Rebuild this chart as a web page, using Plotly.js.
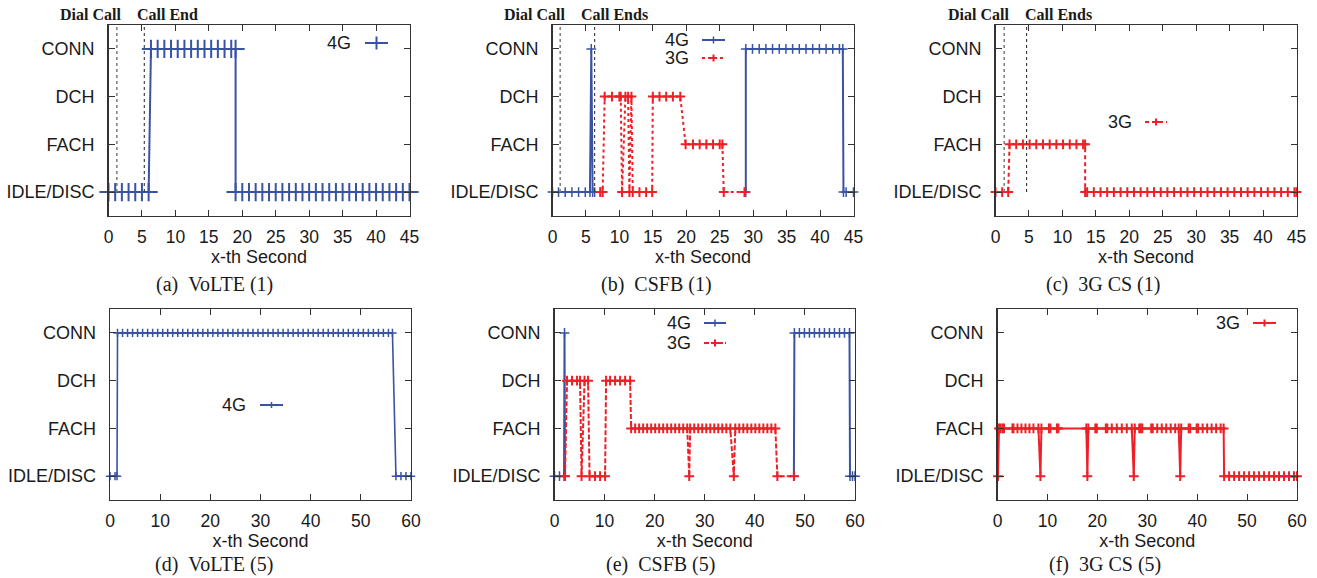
<!DOCTYPE html>
<html>
<head>
<meta charset="utf-8">
<script src="https://cdn.plot.ly/plotly-3.0.1.min.js"></script>
<style>html,body{margin:0;padding:0;background:#fff;}#chart{width:1317px;height:578px;}</style>
</head>
<body>
<div id="chart"></div>
<script>
// ---------- data ----------
const stateLabels = ['IDLE/DISC', 'FACH', 'DCH', 'CONN'];
const stateValues = [0, 1, 2, 3];

// (a) VoLTE (1)
const a4gX = [0,1,2,3,4,5,6, 6.35,7.35,8.35,9.35,10.35,11.35,12.35,13.35,14.35,15.35,16.35,17.35,18.35,19.0, 19.0,20,21,22,23,24,25,26,27,28,29,30,31,32,33,34,35,36,37,38,39,40,41,42,43,44,45];
const a4gY = [0,0,0,0,0,0,0, 3,3,3,3,3,3,3,3,3,3,3,3,3,3, 0,0,0,0,0,0,0,0,0,0,0,0,0,0,0,0,0,0,0,0,0,0,0,0,0,0,0];

// (b) CSFB (1)
const b4gX = [0,0.9,1.9,2.9,3.9,4.9,5.6,5.8,6.0,6.3,7.15,null,28.9,28.9,29.9,30.9,31.9,32.9,33.9,34.9,35.9,36.9,37.9,38.9,39.9,40.9,41.9,42.9,43.4,43.5,43.9,45];
const b4gY = [0,0,0,0,0,0,0,3,0,0,0,null,0,3,3,3,3,3,3,3,3,3,3,3,3,3,3,3,3,0,0,0];
const b3gX = [7.15,7.5,7.8,8.9,10.0,10.2,10.4,10.9,11.3,11.5,11.8,12.0,13.0,14.0,14.9,15.0,16.0,17.0,18.0,19.1,19.9,21.0,22.0,23.0,24.0,25.0,25.4,25.6,28.7];
const b3gY = [0,0,2,2,2,2,0,2,2,0,2,0,0,0,0,2,2,2,2,2,1,1,1,1,1,1,1,0,0];

// (c) 3G CS (1)
const c3gX = [0,1.0,1.9,2.1,3.1,4.1,5.1,6.1,7.1,8.1,9.1,10.1,11.1,12.1,13.1,13.4,13.4,13.7,14.7,15.7,16.7,17.7,18.7,19.7,20.7,21.7,22.7,23.7,24.7,25.7,26.7,27.7,28.7,29.7,30.7,31.7,32.7,33.7,34.7,35.7,36.7,37.7,38.7,39.7,40.7,41.7,42.7,43.7,44.7,45];
const c3gY = [0,0,0,1,1,1,1,1,1,1,1,1,1,1,1,1,0,0,0,0,0,0,0,0,0,0,0,0,0,0,0,0,0,0,0,0,0,0,0,0,0,0,0,0,0,0,0,0,0,0];

// (d) VoLTE (5)
const d4gX = [0,1.0,1.4,1.5,2.5,3.5,4.5,5.5,6.5,7.5,8.5,9.5,10.5,11.5,12.5,13.5,14.5,15.5,16.5,17.5,18.5,19.5,20.5,21.5,22.5,23.5,24.5,25.5,26.5,27.5,28.5,29.5,30.5,31.5,32.5,33.5,34.5,35.5,36.5,37.5,38.5,39.5,40.5,41.5,42.5,43.5,44.5,45.5,46.5,47.5,48.5,49.5,50.5,51.5,52.5,53.5,54.5,55.5,56.3,57.0,58.0,59.0,60.0];
const d4gY = [0,0,0,3,3,3,3,3,3,3,3,3,3,3,3,3,3,3,3,3,3,3,3,3,3,3,3,3,3,3,3,3,3,3,3,3,3,3,3,3,3,3,3,3,3,3,3,3,3,3,3,3,3,3,3,3,3,3,3,0,0,0,0];

// (e) CSFB (5)
const e4gX = [0,1.0,1.9,2.0,2.1,null,47.8,47.9,48.9,49.9,50.9,51.9,52.9,53.9,54.9,55.9,56.9,57.9,58.9,59.0,59.5,60.0];
const e4gY = [0,0,0,3,0,null,0,3,3,3,3,3,3,3,3,3,3,3,3,0,0,0];
const e3gX = [2.1,2.5,3.5,4.5,5.1,5.4,6.0,6.7,7.0,8.1,9.1,10.1,10.3,11.1,12.1,13.1,14.1,15.1,15.3,16.1,16.9,17.7,18.5,19.3,20.1,20.9,21.7,22.5,23.3,24.1,24.9,25.7,26.5,26.9,27.1,27.9,28.7,29.5,30.3,31.1,31.9,32.7,33.5,34.3,35.1,35.8,36.1,36.9,37.7,38.5,39.3,40.1,40.9,41.7,42.5,43.3,44.1,44.5,47.8];
const e3gY = [0,2,2,2,2,0,2,2,0,0,0,0,2,2,2,2,2,2,1,1,1,1,1,1,1,1,1,1,1,1,1,1,1,0,1,1,1,1,1,1,1,1,1,1,1,0,1,1,1,1,1,1,1,1,1,1,1,0,0];

// (f) 3G CS (5)
const f3gX = [0.1,0.3,0.6,1.0,1.3,3.0,3.2,4.0,4.8,5.6,6.4,7.2,8.2,8.6,8.8,10.3,10.6,11.9,12.2,17.8,18.0,18.2,19.6,19.9,21.7,22.0,22.9,23.9,24.9,25.9,26.9,27.3,27.5,28.4,28.7,29.0,30.8,31.1,32.0,32.9,33.8,34.7,35.6,36.3,36.6,36.8,38.3,38.6,39.9,40.2,41.1,42.0,42.9,43.8,44.7,45.3,45.4,46.4,47.4,48.4,49.4,50.4,51.4,52.4,53.4,54.4,55.4,56.4,57.4,58.4,59.4,60.0];
const f3gY = [0,1,1,1,1,1,1,1,1,1,1,1,1,0,1,1,1,1,1,1,0,1,1,1,1,1,1,1,1,1,1,0,1,1,1,1,1,1,1,1,1,1,1,1,0,1,1,1,1,1,1,1,1,1,1,1,0,0,0,0,0,0,0,0,0,0,0,0,0,0,0,0];

// event markers (seconds) for top row panels a, b, c
const dialCallSec = [1.25, 1.15, 1.3];
const callEndSec = [5.35, 6.3, 4.65];
const callEndLabels = ['Call End', 'Call Ends', 'Call Ends'];
const captions = ['(a)\u00a0\u00a0VoLTE (1)', '(b)\u00a0\u00a0CSFB (1)', '(c)\u00a0\u00a03G CS (1)',
                  '(d)\u00a0\u00a0VoLTE (5)', '(e)\u00a0\u00a0CSFB (5)', '(f)\u00a0\u00a03G CS (5)'];
const xMax = [45, 45, 45, 60, 60, 60];
const xStep = [5, 5, 5, 10, 10, 10];

// ---------- layout geometry (pixels) ----------
const W = 1317, H = 578;
const BLUE = '#3953a4', RED = '#ee2027';
const boxes = [ // [left, right, top, bottom]
  [108.5, 409.5, 25, 216],
  [552.5, 853.5, 25, 216],
  [995.5, 1296.5, 25, 216],
  [110, 411, 309, 500],
  [554.5, 855, 309, 500],
  [997.5, 1297, 309, 500]
];
const capCenters = [214, 656, 1103, 214, 660, 1105];
const capY = [284, 284, 284, 564, 564, 564];
const px = v => v / W, py = v => 1 - v / H;

const layout = {
  width: W, height: H, autosize: false,
  margin: {l: 0, r: 0, t: 0, b: 0},
  paper_bgcolor: '#fff', plot_bgcolor: '#fff',
  showlegend: false,
  font: {family: '"Liberation Sans", Arial, Helvetica, sans-serif', size: 18, color: '#1a1a1a'},
  shapes: [], annotations: []
};

boxes.forEach((b, i) => {
  const n = i === 0 ? '' : String(i + 1);
  const tv = [];
  for (let v = 0; v <= xMax[i]; v += xStep[i]) tv.push(v);
  layout['xaxis' + n] = {
    domain: [px(b[0]), px(b[1])], anchor: 'y' + n, range: [0, xMax[i]],
    tickvals: tv, ticks: 'inside', ticklen: 6, tickcolor: '#333', tickwidth: 1,
    showline: true, linecolor: '#333', linewidth: 1.3, mirror: 'ticks',
    showgrid: false, zeroline: false, ticklabelstandoff: 5,
    tickfont: {size: 17.5, color: '#1a1a1a'},
    title: {text: 'x-th Second', font: {size: 18, color: '#1a1a1a'}, standoff: 0}
  };
  layout['yaxis' + n] = {
    domain: [py(b[3]), py(b[2])], anchor: 'x' + n, range: [-0.5, 3.5],
    tickvals: stateValues, ticktext: stateLabels,
    ticks: 'inside', ticklen: 6, tickcolor: '#333', tickwidth: 1,
    showline: true, linecolor: '#333', linewidth: 1.3, mirror: 'ticks',
    showgrid: false, zeroline: false, ticklabelstandoff: 9,
    tickfont: {size: 18, color: '#1a1a1a'}
  };
  layout.annotations.push({
    xref: 'paper', yref: 'paper', x: px(capCenters[i]), y: py(capY[i]),
    xanchor: 'center', yanchor: 'middle', showarrow: false, text: captions[i], borderpad: 0,
    font: {family: '"Liberation Serif", "Times New Roman", serif', size: 20, color: '#1a1a1a'}
  });
});

// event lines and labels on the top row
const dialLabelRight = [123, 567, 1011];
const endLabelLeft = [135, 579, 1023];
for (let i = 0; i < 3; i++) {
  const n = i === 0 ? '' : String(i + 1);
  layout.shapes.push({type: 'line', xref: 'x' + n, yref: 'y' + n, x0: dialCallSec[i], x1: dialCallSec[i], y0: 0, y1: 3.5,
    line: {color: '#7a7a7a', width: 1.5, dash: 'dot'}});
  layout.shapes.push({type: 'line', xref: 'x' + n, yref: 'y' + n, x0: callEndSec[i], x1: callEndSec[i], y0: 0, y1: 3.5,
    line: {color: '#333', width: 1.1, dash: 'dot'}});
  const f = {family: '"Liberation Serif", "Times New Roman", serif', size: 16, color: '#1a1a1a'};
  layout.annotations.push({xref: 'paper', yref: 'paper', x: px(dialLabelRight[i]), y: py(15), xanchor: 'right', yanchor: 'middle',
    showarrow: false, text: '<b>Dial Call</b>', font: f});
  layout.annotations.push({xref: 'paper', yref: 'paper', x: px(endLabelLeft[i]), y: py(15), xanchor: 'left', yanchor: 'middle',
    showarrow: false, text: '<b>' + callEndLabels[i] + '</b>', font: f});
}

// legend keys (text left, sample right, as in the original)
const keys = [
  {t: '4G', tr: 353, y: 43, x0: 365, x1: 388, c: BLUE, dash: 'solid', lw: 2, ph: 13, pw: 11, plw: 2},
  {t: '4G', tr: 691, y: 40, x0: 702, x1: 725, c: BLUE, dash: 'solid', lw: 2, ph: 7, pw: 7, plw: 1.5},
  {t: '3G', tr: 691, y: 58, x0: 702, x1: 725, c: RED, dash: 'dot', lw: 2, ph: 7, pw: 7, plw: 2},
  {t: '3G', tr: 1134, y: 122, x0: 1145, x1: 1167, c: RED, dash: '4px,3px', lw: 2, ph: 7, pw: 7, plw: 2},
  {t: '4G', tr: 248, y: 405, x0: 260, x1: 283, c: BLUE, dash: 'solid', lw: 2, ph: 6, pw: 6, plw: 1.5},
  {t: '4G', tr: 693, y: 323, x0: 704, x1: 726, c: BLUE, dash: 'solid', lw: 2, ph: 7, pw: 7, plw: 1.5},
  {t: '3G', tr: 693, y: 343, x0: 704, x1: 726, c: RED, dash: '5px,2px', lw: 2, ph: 7, pw: 7, plw: 2},
  {t: '3G', tr: 1242, y: 323, x0: 1253, x1: 1276, c: RED, dash: 'solid', lw: 2, ph: 7, pw: 7, plw: 2}
];
keys.forEach(k => {
  layout.annotations.push({xref: 'paper', yref: 'paper', x: px(k.tr), y: py(k.y), xanchor: 'right', yanchor: 'middle',
    showarrow: false, text: k.t, font: {size: 18, color: '#1a1a1a'}});
  layout.shapes.push({type: 'line', xref: 'paper', yref: 'paper', x0: px(k.x0), x1: px(k.x1), y0: py(k.y), y1: py(k.y),
    line: {color: k.c, width: k.lw, dash: k.dash}});
  const cx = (k.x0 + k.x1) / 2;
  layout.shapes.push({type: 'line', xref: 'paper', yref: 'paper', x0: px(cx), x1: px(cx), y0: py(k.y - k.ph / 2), y1: py(k.y + k.ph / 2),
    line: {color: k.c, width: k.plw}});
  layout.shapes.push({type: 'line', xref: 'paper', yref: 'paper', x0: px(cx - k.pw / 2), x1: px(cx + k.pw / 2), y0: py(k.y), y1: py(k.y),
    line: {color: k.c, width: k.plw}});
});

// ---------- traces ----------
function tr(x, y, ax, name, color, dash, lw, msize, mlw) {
  return {
    type: 'scatter', mode: 'lines+markers', x: x, y: y, name: name,
    xaxis: 'x' + ax, yaxis: 'y' + ax, cliponaxis: false, connectgaps: false,
    line: {color: color, width: lw, dash: dash},
    marker: {symbol: 'cross-thin-open', size: msize, color: color, line: {color: color, width: mlw}},
    hoverinfo: 'x+y'
  };
}
const data = [
  tr(a4gX, a4gY, '', '4G', BLUE, 'solid', 2, 13, 2),
  tr(b4gX, b4gY, '2', '4G', BLUE, 'solid', 2, 7, 1.5),
  tr(b3gX, b3gY, '2', '3G', RED, 'dot', 2, 7, 2),
  tr(c3gX, c3gY, '3', '3G', RED, '4px,3px', 2, 7, 2),
  tr(d4gX, d4gY, '4', '4G', BLUE, 'solid', 1.6, 6, 1.5),
  tr(e4gX, e4gY, '5', '4G', BLUE, 'solid', 2, 7, 1.5),
  tr(e3gX, e3gY, '5', '3G', RED, '5px,2px', 2, 7, 2),
  tr(f3gX, f3gY, '6', '3G', RED, 'solid', 2, 7, 2)
];

Plotly.newPlot('chart', data, layout, {staticPlot: true, displayModeBar: false});
</script>
</body>
</html>
